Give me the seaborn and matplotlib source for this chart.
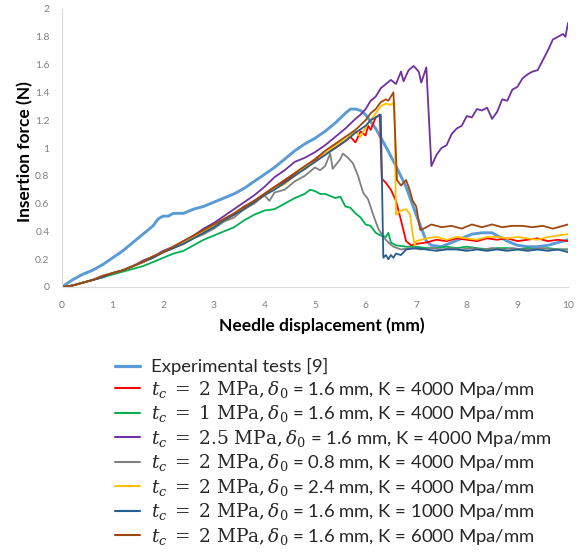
import numpy as np
import pandas as pd
import matplotlib
matplotlib.use("Agg")
import matplotlib.pyplot as plt
import seaborn as sns
from matplotlib.lines import Line2D

# ---------------- data ----------------
exp_x = [0, 0.2, 0.4, 0.6, 0.8, 1.0, 1.2, 1.4, 1.6, 1.8, 1.9, 2.0, 2.1, 2.2, 2.4, 2.6, 2.8, 3.0,
         3.2, 3.4, 3.6, 3.8, 4.0, 4.2, 4.4, 4.6, 4.8, 5.0, 5.2, 5.4, 5.6, 5.7, 5.8, 5.9, 6.0,
         6.2, 6.4, 6.6, 6.8, 7.0, 7.2, 7.3, 7.5, 7.7, 7.9, 8.1, 8.3, 8.5, 8.6, 8.8, 9.0, 9.2,
         9.4, 9.6, 9.8, 10.0]
exp_y = [0, 0.05, 0.09, 0.12, 0.16, 0.21, 0.26, 0.32, 0.38, 0.44, 0.49, 0.51, 0.51, 0.53, 0.53,
         0.56, 0.58, 0.61, 0.64, 0.67, 0.71, 0.76, 0.81, 0.86, 0.92, 0.98, 1.03, 1.07, 1.12,
         1.18, 1.25, 1.28, 1.28, 1.27, 1.24, 1.14, 1.01, 0.87, 0.72, 0.52, 0.33, 0.30, 0.29,
         0.32, 0.35, 0.38, 0.39, 0.39, 0.37, 0.33, 0.30, 0.29, 0.29, 0.30, 0.32, 0.34]

red_x = [0, 0.2, 0.4, 0.6, 0.8, 1.0, 1.2, 1.4, 1.6, 1.8, 2.0, 2.2, 2.4, 2.6, 2.8, 3.0, 3.2, 3.4,
         3.6, 3.8, 4.0, 4.2, 4.4, 4.6, 4.8, 5.0, 5.2, 5.4, 5.6, 5.7, 5.8, 5.9, 6.0, 6.05, 6.1,
         6.2, 6.28, 6.32, 6.4, 6.5, 6.6, 6.7, 6.8, 6.9, 7.0, 7.2, 7.4, 7.6, 7.8, 8.0, 8.2, 8.4,
         8.6, 8.8, 9.0, 9.2, 9.4, 9.6, 9.8, 10.0]
red_y = [0, 0.01, 0.03, 0.05, 0.07, 0.10, 0.12, 0.15, 0.18, 0.22, 0.25, 0.28, 0.32, 0.36, 0.40,
         0.43, 0.48, 0.52, 0.57, 0.62, 0.67, 0.72, 0.76, 0.81, 0.85, 0.91, 0.96, 1.00, 1.05,
         1.08, 1.04, 1.12, 1.09, 1.16, 1.13, 1.22, 1.24, 0.78, 0.75, 0.70, 0.62, 0.48, 0.33,
         0.30, 0.31, 0.32, 0.34, 0.33, 0.35, 0.34, 0.33, 0.35, 0.34, 0.35, 0.33, 0.34, 0.35,
         0.33, 0.34, 0.33]

green_x = [0, 0.2, 0.4, 0.6, 0.8, 1.0, 1.2, 1.4, 1.6, 1.8, 2.0, 2.2, 2.4, 2.6, 2.8, 3.0, 3.2,
           3.4, 3.6, 3.8, 4.0, 4.2, 4.4, 4.6, 4.8, 4.9, 5.0, 5.1, 5.2, 5.4, 5.5, 5.6, 5.7, 5.8,
           5.9, 6.0, 6.1, 6.2, 6.3, 6.4, 6.45, 6.5, 6.6, 6.8, 7.0, 7.2, 7.4, 7.6, 7.8, 8.0, 8.2,
           8.4, 8.6, 8.8, 9.0, 9.2, 9.4, 9.6, 9.8, 10.0]
green_y = [0, 0.01, 0.03, 0.05, 0.07, 0.09, 0.11, 0.13, 0.15, 0.18, 0.21, 0.24, 0.26, 0.30,
           0.34, 0.37, 0.40, 0.43, 0.48, 0.52, 0.55, 0.56, 0.60, 0.64, 0.67, 0.70, 0.69, 0.67,
           0.67, 0.64, 0.65, 0.58, 0.57, 0.53, 0.50, 0.45, 0.44, 0.39, 0.37, 0.36, 0.39, 0.32,
           0.30, 0.29, 0.29, 0.28, 0.28, 0.29, 0.28, 0.29, 0.28, 0.27, 0.28, 0.28, 0.27, 0.28,
           0.27, 0.28, 0.27, 0.27]

purple_x = [0, 0.2, 0.4, 0.6, 0.8, 1.0, 1.2, 1.4, 1.6, 1.8, 2.0, 2.2, 2.4, 2.6, 2.8, 3.0, 3.2,
            3.4, 3.6, 3.8, 4.0, 4.2, 4.4, 4.6, 4.8, 5.0, 5.2, 5.4, 5.6, 5.8, 5.9, 6.0, 6.1, 6.2,
            6.3, 6.4, 6.5, 6.6, 6.7, 6.75, 6.85, 6.95, 7.05, 7.1, 7.2, 7.3, 7.4, 7.5, 7.6, 7.7,
            7.8, 7.9, 8.0, 8.1, 8.2, 8.3, 8.4, 8.5, 8.6, 8.7, 8.8, 8.9, 9.0, 9.1, 9.2, 9.3, 9.4,
            9.5, 9.6, 9.7, 9.8, 9.9, 9.95, 10.0]
purple_y = [0, 0.01, 0.03, 0.05, 0.08, 0.10, 0.12, 0.15, 0.19, 0.22, 0.26, 0.29, 0.33, 0.37,
            0.42, 0.46, 0.51, 0.56, 0.61, 0.66, 0.72, 0.79, 0.84, 0.90, 0.93, 0.97, 1.02, 1.08,
            1.14, 1.21, 1.24, 1.28, 1.34, 1.37, 1.43, 1.46, 1.49, 1.46, 1.55, 1.48, 1.56, 1.59,
            1.55, 1.47, 1.58, 0.87, 0.95, 1.00, 1.02, 1.10, 1.14, 1.16, 1.23, 1.22, 1.28, 1.27,
            1.29, 1.21, 1.26, 1.35, 1.34, 1.42, 1.44, 1.50, 1.53, 1.55, 1.56, 1.63, 1.70, 1.78,
            1.80, 1.82, 1.80, 1.90]

gray_x = [0, 0.2, 0.4, 0.6, 0.8, 1.0, 1.2, 1.4, 1.6, 1.8, 2.0, 2.2, 2.4, 2.6, 2.8, 3.0, 3.2,
          3.4, 3.6, 3.8, 4.0, 4.1, 4.2, 4.4, 4.6, 4.8, 5.0, 5.1, 5.2, 5.3, 5.35, 5.5, 5.55, 5.65,
          5.75, 5.85, 5.95, 6.05, 6.15, 6.25, 6.35, 6.45, 6.55, 6.7, 6.9, 7.1, 7.3, 7.5, 7.7,
          7.9, 8.1, 8.3, 8.5, 8.7, 8.9, 9.1, 9.3, 9.5, 9.7, 10.0]
gray_y = [0, 0.01, 0.03, 0.05, 0.07, 0.10, 0.12, 0.15, 0.18, 0.21, 0.25, 0.28, 0.31, 0.35,
          0.38, 0.42, 0.47, 0.50, 0.56, 0.60, 0.66, 0.62, 0.68, 0.70, 0.76, 0.80, 0.86, 0.84,
          0.87, 0.96, 0.85, 0.92, 0.96, 0.93, 0.89, 0.80, 0.68, 0.63, 0.52, 0.42, 0.36, 0.32,
          0.29, 0.27, 0.28, 0.27, 0.28, 0.27, 0.28, 0.27, 0.28, 0.27, 0.28, 0.27, 0.28, 0.27,
          0.27, 0.28, 0.27, 0.27]

yellow_x = [0, 0.2, 0.4, 0.6, 0.8, 1.0, 1.2, 1.4, 1.6, 1.8, 2.0, 2.2, 2.4, 2.6, 2.8, 3.0, 3.2,
            3.4, 3.6, 3.8, 4.0, 4.2, 4.4, 4.6, 4.8, 5.0, 5.2, 5.4, 5.6, 5.8, 5.9, 6.0, 6.2, 6.3,
            6.4, 6.5, 6.57, 6.6, 6.7, 6.8, 6.88, 6.93, 6.97, 7.0, 7.2, 7.4, 7.6, 7.8, 8.0, 8.2,
            8.4, 8.6, 8.8, 9.0, 9.2, 9.4, 9.6, 9.8, 10.0]
yellow_y = [0, 0.01, 0.03, 0.05, 0.08, 0.10, 0.12, 0.15, 0.18, 0.22, 0.25, 0.29, 0.32, 0.36,
            0.40, 0.44, 0.48, 0.53, 0.56, 0.61, 0.66, 0.71, 0.74, 0.80, 0.86, 0.90, 0.96, 1.02,
            1.06, 1.12, 1.08, 1.15, 1.25, 1.30, 1.32, 1.31, 1.33, 0.52, 0.55, 0.56, 0.52, 0.38,
            0.30, 0.33, 0.35, 0.36, 0.34, 0.36, 0.35, 0.34, 0.36, 0.36, 0.35, 0.36, 0.35, 0.34,
            0.36, 0.37, 0.38]

dblue_x = [0, 0.2, 0.4, 0.6, 0.8, 1.0, 1.2, 1.4, 1.6, 1.8, 2.0, 2.2, 2.4, 2.6, 2.8, 3.0, 3.2,
           3.4, 3.6, 3.8, 4.0, 4.2, 4.4, 4.6, 4.8, 5.0, 5.2, 5.4, 5.6, 5.8, 6.0, 6.1, 6.2, 6.3,
           6.35, 6.4, 6.45, 6.5, 6.55, 6.6, 6.7, 6.8, 7.0, 7.2, 7.4, 7.6, 7.8, 8.0, 8.2, 8.4,
           8.6, 8.8, 9.0, 9.2, 9.4, 9.6, 9.8, 10.0]
dblue_y = [0, 0.01, 0.03, 0.05, 0.07, 0.10, 0.12, 0.15, 0.18, 0.21, 0.25, 0.28, 0.31, 0.35,
           0.39, 0.43, 0.48, 0.52, 0.56, 0.61, 0.66, 0.70, 0.75, 0.80, 0.85, 0.90, 0.95, 1.00,
           1.05, 1.11, 1.16, 1.20, 1.22, 1.24, 0.21, 0.23, 0.20, 0.23, 0.21, 0.24, 0.23, 0.27,
           0.28, 0.27, 0.26, 0.27, 0.27, 0.26, 0.27, 0.26, 0.27, 0.26, 0.27, 0.26, 0.27, 0.26,
           0.27, 0.25]

brown_x = [0, 0.2, 0.4, 0.6, 0.8, 1.0, 1.2, 1.4, 1.6, 1.8, 2.0, 2.2, 2.4, 2.6, 2.8, 3.0, 3.2,
           3.4, 3.6, 3.8, 4.0, 4.2, 4.4, 4.6, 4.8, 5.0, 5.2, 5.4, 5.6, 5.8, 6.0, 6.1, 6.2, 6.3,
           6.4, 6.45, 6.55, 6.62, 6.7, 6.8, 6.87, 6.93, 7.0, 7.08, 7.15, 7.3, 7.5, 7.7, 7.9, 8.1,
           8.3, 8.5, 8.7, 8.9, 9.1, 9.3, 9.5, 9.7, 9.9, 10.0]
brown_y = [0, 0.01, 0.03, 0.05, 0.08, 0.10, 0.12, 0.15, 0.18, 0.22, 0.25, 0.29, 0.33, 0.37,
           0.41, 0.45, 0.49, 0.53, 0.58, 0.62, 0.67, 0.72, 0.77, 0.82, 0.87, 0.92, 0.98, 1.03,
           1.08, 1.13, 1.20, 1.25, 1.28, 1.33, 1.35, 1.34, 1.40, 0.77, 0.73, 0.77, 0.70, 0.62,
           0.58, 0.41, 0.42, 0.45, 0.43, 0.44, 0.42, 0.45, 0.43, 0.45, 0.43, 0.44, 0.44, 0.43,
           0.44, 0.42, 0.44, 0.45]

labels = [
    "Experimental tests [9]",
    r"$t_c\;=\;2\ \mathrm{MPa},\delta_0$ = 1.6 mm, K = 4000 Mpa/mm",
    r"$t_c\;=\;1\ \mathrm{MPa},\delta_0$ = 1.6 mm, K = 4000 Mpa/mm",
    r"$t_c\;=\;2.5\ \mathrm{MPa},\delta_0$ = 1.6 mm, K = 4000 Mpa/mm",
    r"$t_c\;=\;2\ \mathrm{MPa},\delta_0$ = 0.8 mm, K = 4000 Mpa/mm",
    r"$t_c\;=\;2\ \mathrm{MPa},\delta_0$ = 2.4 mm, K = 4000 Mpa/mm",
    r"$t_c\;=\;2\ \mathrm{MPa},\delta_0$ = 1.6 mm, K = 1000 Mpa/mm",
    r"$t_c\;=\;2\ \mathrm{MPa},\delta_0$ = 1.6 mm, K = 6000 Mpa/mm",
]
series_x = [exp_x, red_x, green_x, purple_x, gray_x, yellow_x, dblue_x, brown_x]
series_y = [exp_y, red_y, green_y, purple_y, gray_y, yellow_y, dblue_y, brown_y]
colors = ["#5B9BD5", "#FF0000", "#00B050", "#7030A0", "#808080", "#FFC000", "#255E91", "#9E480E"]
widths = [2.1, 1.3, 1.3, 1.3, 1.3, 1.3, 1.3, 1.3]

x_ticks = list(range(0, 11))
y_ticks = [0, 0.2, 0.4, 0.6, 0.8, 1.0, 1.2, 1.4, 1.6, 1.8, 2.0]
y_tick_labels = ["0", "0.2", "0.4", "0.6", "0.8", "1", "1.2", "1.4", "1.6", "1.8", "2"]

# ---------------- plot ----------------
sns.set_theme(style="white")
plt.rcParams["font.family"] = ["Lato", "DejaVu Sans"]
plt.rcParams["mathtext.fontset"] = "dejavuserif"

W, H = 582, 552
fig = plt.figure(figsize=(W / 100, H / 100), dpi=100)
ax = fig.add_axes([62 / W, 1 - 287 / H, 506 / W, 278 / H])

rows = []
for lab, xs, ys in zip(labels, series_x, series_y):
    for i, (xv, yv) in enumerate(zip(xs, ys)):
        rows.append((lab, i, xv, yv))
df = pd.DataFrame(rows, columns=["series", "order", "x", "y"])

handles = []
for lab, col, lw in zip(labels, colors, widths):
    sub = df[df["series"] == lab]
    sns.lineplot(data=sub, x="x", y="y", ax=ax, color=col, linewidth=lw,
                 sort=False, estimator=None, legend=False)
    handles.append(Line2D([0], [0], color=col, linewidth=lw + 0.2))

ax.set_xlim(0, 10)
ax.set_ylim(0, 2)
ax.set_xticks(x_ticks)
ax.set_xticklabels([str(t) for t in x_ticks])
ax.set_yticks(y_ticks)
ax.set_yticklabels(y_tick_labels)
ax.tick_params(axis="both", length=0, labelsize=7.5, labelcolor="#808080")
ax.tick_params(axis="y", pad=9)
ax.tick_params(axis="x", pad=10)

for s in ["top", "right"]:
    ax.spines[s].set_visible(False)
for s in ["left", "bottom"]:
    ax.spines[s].set_color("#D9D9D9")
    ax.spines[s].set_linewidth(0.8)

ax.set_xlabel("Needle displacement (mm)", fontsize=12.5, fontweight="bold", color="#000000", va="center")
ax.set_ylabel("Insertion force (N)", fontsize=12.5, fontweight="bold", color="#000000", va="center")
ax.xaxis.set_label_coords((322 - 62) / 506, (287 - 326) / 278)
ax.yaxis.set_label_coords((25 - 62) / 506, (287 - 152) / 278)

fig.legend(handles, labels, loc="upper left", bbox_to_anchor=(115 / W, 1 - 358 / H),
           frameon=False, fontsize=13.3, handlelength=1.38, handletextpad=0.56,
           labelspacing=0.19, borderpad=0, borderaxespad=0)

fig.savefig("out.png", dpi=100)
